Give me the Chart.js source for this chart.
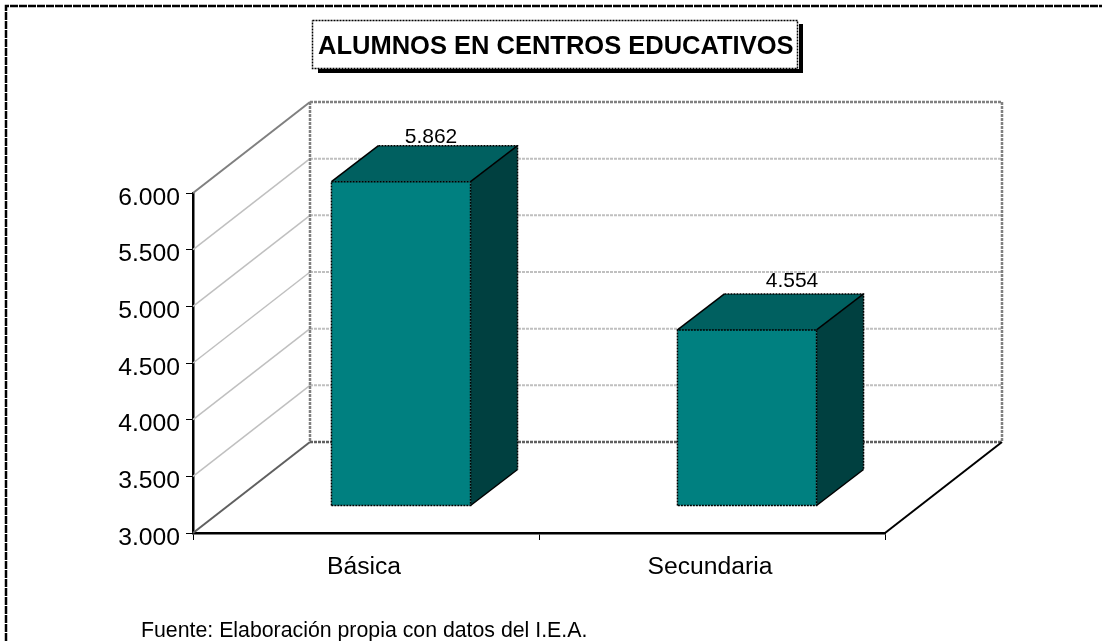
<!DOCTYPE html>
<html>
<head>
<meta charset="utf-8">
<style>
  html, body { margin: 0; padding: 0; background: #fff; }
  canvas { display: block; }
</style>
<script src="https://cdn.jsdelivr.net/npm/chart.js@4/dist/chart.umd.min.js"></script>
</head>
<body>
<canvas id="chart" width="1102" height="641"></canvas>
<script>
const chartTitle = 'ALUMNOS EN CENTROS EDUCATIVOS'
const sourceNote = 'Fuente: Elaboración propia con datos del I.E.A.'
const categories = ['Básica', 'Secundaria']
const alumnos = [5.862, 4.554]
const axisMin = 3
const axisMax = 6
const axisStep = 0.5

const FONT = '"Liberation Sans", Arial, sans-serif'
const wallDepth = { x: 117, y: -91 }
const barShift = { x: 35, y: -27 }
const barDepth = { x: 47, y: -36 }
const labelNudge = [{ x: 30, y: -3 }, { x: 45, y: -7 }]

function line (ctx, points, color, width, dash) {
  ctx.save()
  ctx.strokeStyle = color
  ctx.lineWidth = width
  ctx.setLineDash(dash || [])
  ctx.beginPath()
  points.forEach(([x, y], i) => (i ? ctx.lineTo(x, y) : ctx.moveTo(x, y)))
  ctx.stroke()
  ctx.restore()
}

function face (ctx, points, color) {
  ctx.fillStyle = color
  ctx.beginPath()
  points.forEach(([x, y], i) => (i ? ctx.lineTo(x, y) : ctx.moveTo(x, y)))
  ctx.closePath()
  ctx.fill()
}

const pagePlugin = {
  id: 'page',
  beforeDraw (chart) {
    const { ctx } = chart
    ctx.save()
    ctx.fillStyle = '#fff'
    ctx.fillRect(0, 0, chart.width, chart.height)
    line(ctx, [[6, 641], [6, 6], [1102, 6]], '#000', 2.5, [8, 1])
    ctx.restore()
  },
  afterDraw (chart) {
    const { ctx } = chart
    ctx.save()
    ctx.fillStyle = '#000'
    ctx.fillRect(318, 69, 485, 4)
    ctx.fillRect(799, 24, 4, 49)
    ctx.fillStyle = '#fff'
    ctx.fillRect(312, 20, 486, 49)
    line(ctx, [[312.5, 20.5], [797.5, 20.5], [797.5, 68.5], [312.5, 68.5], [312.5, 20.5]], '#000', 1.5, [2, 1])
    ctx.fillStyle = '#000'
    ctx.textBaseline = 'alphabetic'
    ctx.font = 'bold 25.5px ' + FONT
    ctx.fillText(chartTitle, 318, 54)
    ctx.font = '21.3px ' + FONT
    ctx.fillText(sourceNote, 141, 637)
    ctx.restore()
  }
}

const wallPlugin = {
  id: 'wall',
  beforeDatasetsDraw (chart) {
    const { ctx, chartArea: area, scales } = chart
    const yScale = scales.y
    const dx = wallDepth.x
    const dy = wallDepth.y
    yScale.ticks.forEach(tick => {
      const y = yScale.getPixelForValue(tick.value)
      if (tick.value === axisMin || tick.value === axisMax) return
      line(ctx, [[area.left, y], [area.left + dx, y + dy]], '#c0c0c0', 1.5)
      line(ctx, [[area.left + dx, y + dy], [area.right + dx, y + dy]], '#c0c0c0', 2, [3, 1])
    })
    // back wall frame and floor
    const top = area.top + dy
    const bottom = area.bottom + dy
    const left = area.left + dx
    const right = area.right + dx
    line(ctx, [[area.left, area.top], [left, top]], '#808080', 2)
    line(ctx, [[left, top], [right, top], [right, bottom]], '#808080', 2.5, [3, 1])
    line(ctx, [[left, top], [left, bottom]], '#808080', 2.5, [3, 1])
    line(ctx, [[left, bottom], [right, bottom]], '#606060', 2.5, [3, 1])
    line(ctx, [[area.left, area.bottom], [left, bottom]], '#606060', 2)
    line(ctx, [[area.right, area.bottom], [right, bottom]], '#000', 2)
  },
  beforeDatasetDraw (chart) {
    chart.ctx.save()
    chart.ctx.translate(barShift.x, barShift.y)
  },
  afterDatasetDraw (chart, args) {
    const { ctx } = chart
    ctx.restore()
    const dx = barDepth.x
    const dy = barDepth.y
    args.meta.data.forEach((bar, i) => {
      const l = bar.x - bar.width / 2 + barShift.x
      const r = bar.x + bar.width / 2 + barShift.x
      const t = bar.y + barShift.y
      const b = bar.base + barShift.y
      face(ctx, [[l, t], [l + dx, t + dy], [r + dx, t + dy], [r, t]], '#006060')
      face(ctx, [[r, t], [r + dx, t + dy], [r + dx, b + dy], [r, b]], '#004040')
      const dash = [2, 1]
      line(ctx, [[l, b], [l, t], [r, t], [r, b], [l, b]], '#000', 1.5, dash)
      line(ctx, [[l + dx, t + dy], [r + dx, t + dy], [r + dx, b + dy]], '#000', 1.5, dash)
      line(ctx, [[l, t], [l + dx, t + dy]], '#000', 1.5)
      line(ctx, [[r, t], [r + dx, t + dy]], '#000', 1.5)
      line(ctx, [[r, b], [r + dx, b + dy]], '#000', 1.5)

      ctx.save()
      ctx.fillStyle = '#000'
      ctx.font = '21px ' + FONT
      ctx.textAlign = 'center'
      ctx.textBaseline = 'alphabetic'
      ctx.fillText(
        alumnos[i].toFixed(3),
        bar.x + barShift.x + labelNudge[i].x,
        t + dy + labelNudge[i].y
      )
      ctx.restore()
    })
  }
}

new Chart(document.getElementById('chart'), {
  type: 'bar',
  data: {
    labels: categories,
    datasets: [{
      data: alumnos,
      base: axisMin,
      backgroundColor: '#008080',
      borderWidth: 0,
      barPercentage: 0.402,
      categoryPercentage: 1,
      clip: false
    }]
  },
  options: {
    responsive: false,
    animation: false,
    layout: { padding: { top: 193, right: 217, left: 0, bottom: 0 } },
    plugins: {
      legend: { display: false },
      title: { display: false },
      tooltip: { enabled: false }
    },
    scales: {
      x: {
        afterFit: scale => { scale.height = 108 },
        grid: { drawOnChartArea: false, tickLength: 7, tickColor: '#000', tickWidth: 1 },
        border: { color: '#000', width: 2.5, dash: [6, 1] },
        ticks: { color: '#000', font: { family: FONT, size: 24.7 }, padding: 12, labelOffset: -2, maxRotation: 0 }
      },
      y: {
        min: axisMin,
        max: axisMax,
        afterFit: scale => { scale.width = 193 },
        grid: { drawOnChartArea: false, tickLength: 7, tickColor: '#000', tickWidth: 1 },
        border: { color: '#000', width: 2.5, dash: [3, 1] },
        ticks: {
          stepSize: axisStep,
          color: '#000',
          padding: 6,
          labelOffset: 5,
          font: { family: FONT, size: 24.7 },
          callback: value => value.toFixed(3)
        }
      }
    }
  },
  plugins: [pagePlugin, wallPlugin]
})
</script>
</body>
</html>
